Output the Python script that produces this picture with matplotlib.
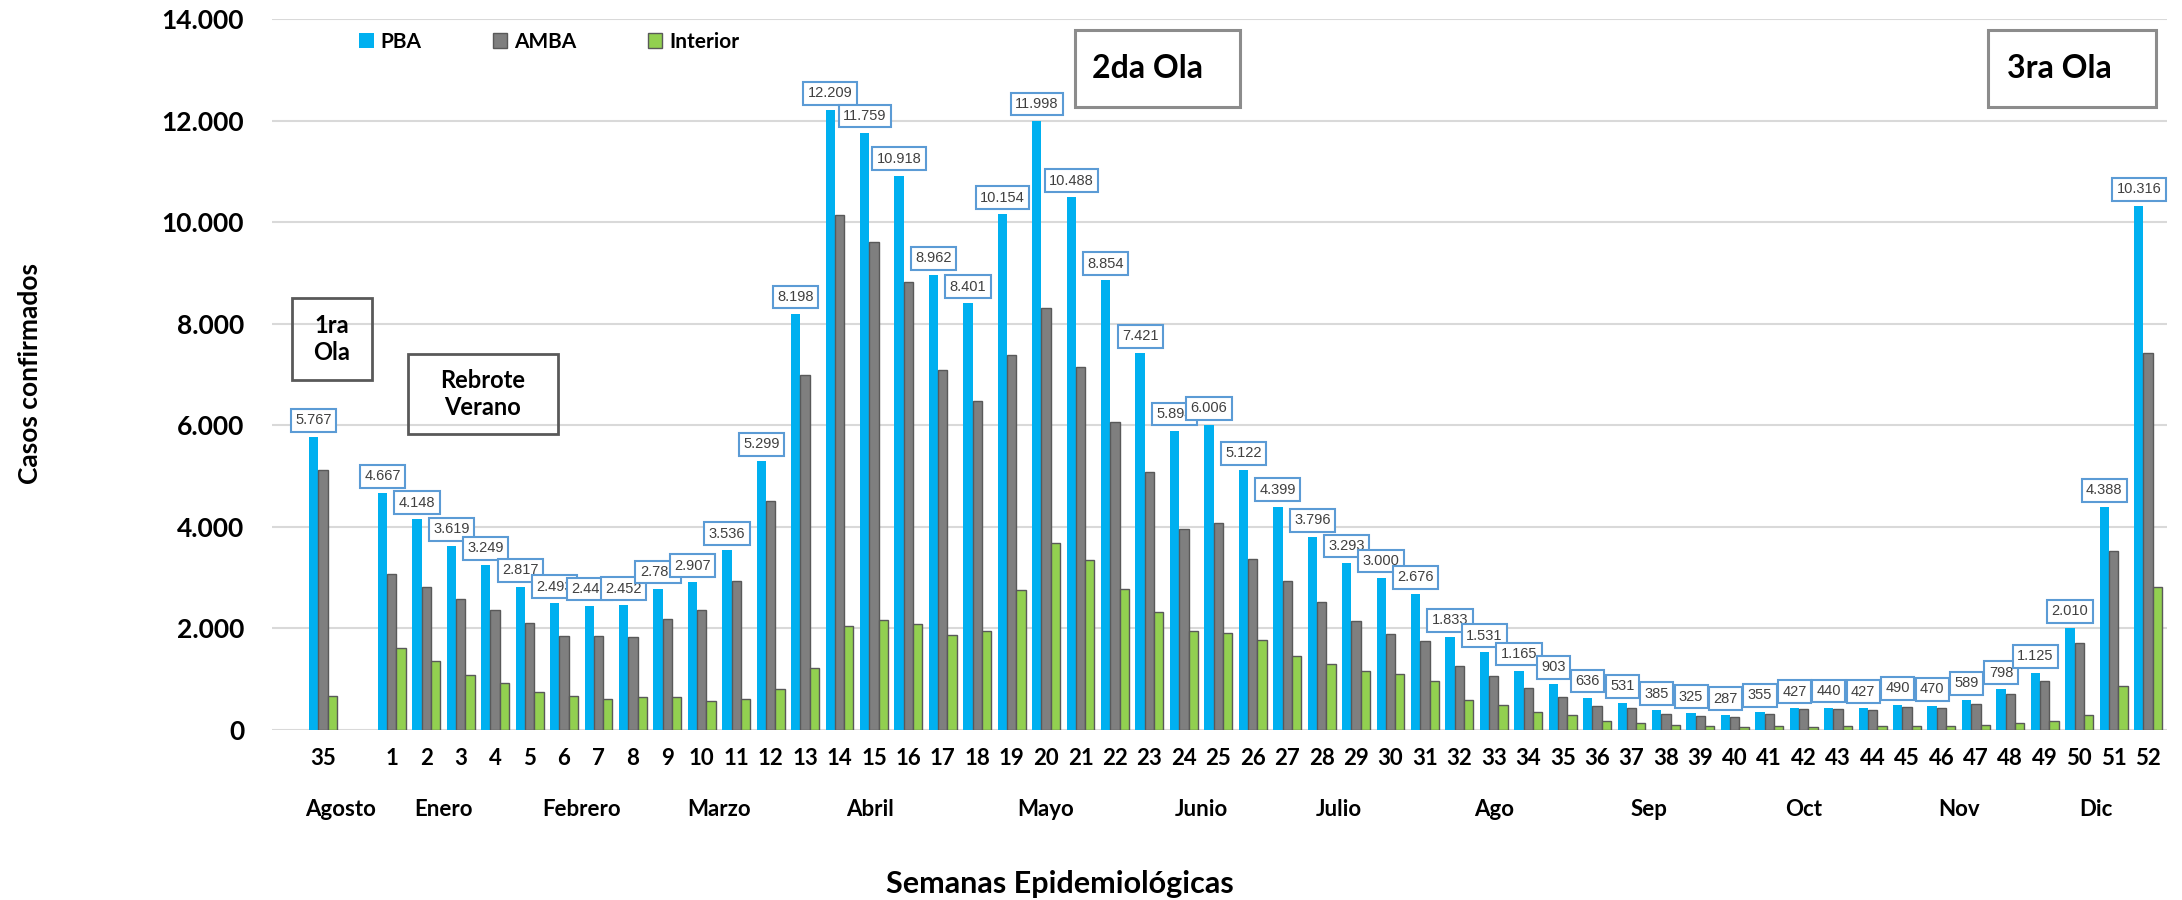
import numpy as np
import matplotlib.pyplot as plt
from matplotlib.patches import Rectangle
from matplotlib.ticker import FuncFormatter

# semanas epidemiologicas (35 de 2020 y luego 1..52 de 2021)
weeks = ['35', '1', '2', '3', '4', '5', '6', '7', '8', '9', '10', '11', '12',
         '13', '14', '15', '16', '17', '18', '19', '20', '21', '22', '23', '24',
         '25', '26', '27', '28', '29', '30', '31', '32', '33', '34', '35', '36',
         '37', '38', '39', '40', '41', '42', '43', '44', '45', '46', '47', '48',
         '49', '50', '51', '52']

pba = [5767, 4667, 4148, 3619, 3249, 2817, 2493, 2446, 2452, 2783, 2907, 3536, 5299,
       8198, 12209, 11759, 10918, 8962, 8401, 10154, 11998, 10488, 8854,
       7421, 5894, 6006, 5122, 4399, 3796, 3293, 3000, 2676, 1833,
       1531, 1165, 903, 636, 531, 385, 325, 287, 355, 427,
       440, 427, 490, 470, 589, 798, 1125, 2010, 4388, 10316]

amba = [5110, 3075, 2810, 2580, 2360, 2100, 1860, 1860, 1840, 2180, 2360, 2940, 4500,
        6990, 10140, 9610, 8830, 7080, 6470, 7380, 8310, 7140, 6070,
        5090, 3960, 4085, 3370, 2940, 2530, 2140, 1900, 1750, 1260,
        1060, 820, 640, 480, 430, 320, 280, 255, 320, 410,
        410, 390, 450, 430, 510, 700, 970, 1720, 3530, 7430]

interior = [670, 1620, 1360, 1075, 920, 750, 670, 620, 640, 640, 580, 620, 810,
            1230, 2050, 2160, 2090, 1870, 1940, 2760, 3690, 3340, 2780,
            2330, 1940, 1910, 1770, 1460, 1290, 1160, 1110, 960, 600,
            500, 360, 290, 180, 140, 90, 70, 50, 70, 50,
            70, 70, 70, 70, 100, 140, 180, 295, 865, 2820]

months = ['Agosto', 'Enero', 'Febrero', 'Marzo', 'Abril', 'Mayo', 'Junio',
          'Julio', 'Ago', 'Sep', 'Oct', 'Nov', 'Dic']
month_pos = [0.5, 3.5, 7.5, 11.5, 15.9, 21.0, 25.5, 29.5, 34.0, 38.5, 43.0, 47.5, 51.5]

W, H = 2182, 900
plt.rcParams['font.family'] = ['Lato', 'DejaVu Sans']

fig = plt.figure(figsize=(W / 100, H / 100), dpi=100)
ax = fig.add_axes([272 / W, 1 - 730 / H, (2167 - 272) / W, (730 - 19) / H])

idx = np.arange(len(weeks))
x = idx + (idx > 0)  # hueco entre la 35 y la semana 1
w = 0.27

b1 = ax.bar(x - w, pba, w, color='#00B0F0', label='PBA')
b2 = ax.bar(x, amba, w, color='#7F7F7F', edgecolor='#595959', linewidth=1, label='AMBA')
b3 = ax.bar(x + w, interior, w, color='#92D050', edgecolor='#595959', linewidth=1, label='Interior')

lab_font = ['Liberation Sans Narrow', 'Liberation Sans', 'DejaVu Sans']
for xi, v in zip(x, pba):
    ax.annotate(f'{v:,}'.replace(',', '.'), (xi - w, v), xytext=(0, 7),
                textcoords='offset points', ha='center', va='bottom',
                fontsize=10.5, color='#404040', family=lab_font,
                bbox=dict(boxstyle='square,pad=0.3', fc='white', ec='#5B9BD5', lw=1.5))

ax.set_xlim(-1.48, 53.55)
ax.set_ylim(0, 14000)
ax.set_yticks(np.arange(0, 14001, 2000))
ax.yaxis.set_major_formatter(FuncFormatter(lambda v, p: f'{int(v):,}'.replace(',', '.')))
ax.yaxis.grid(True, color='#D9D9D9', lw=1.5)
ax.set_axisbelow(True)
for s in ax.spines.values():
    s.set_visible(False)

ax.set_xticks(x)
ax.set_xticklabels(weeks)
ax.tick_params(axis='x', length=0, pad=13, labelsize=16)
ax.tick_params(axis='y', length=0, pad=20, labelsize=19)
for t in ax.get_xticklabels() + ax.get_yticklabels():
    t.set_fontweight('bold')

for name, pos in zip(months, month_pos):
    ax.text(pos, -0.121, name, transform=ax.get_xaxis_transform(), ha='center',
            va='baseline', fontsize=16, fontweight='bold')

fig.text(1060 / W, 1 - 893 / H, 'Semanas Epidemiológicas', ha='center', va='baseline',
         fontsize=22, fontweight='bold')
fig.text(30 / W, 1 - 373 / H, 'Casos confirmados', rotation=90, ha='center', va='center',
         fontsize=19, fontweight='bold')

ax.legend(handles=[b1, b2, b3], loc='center left', bbox_to_anchor=(359 / W, 1 - 42 / H),
          bbox_transform=fig.transFigure, ncol=3, frameon=False,
          prop={'weight': 'bold', 'size': 15}, handlelength=0.7, handleheight=0.7,
          handletextpad=0.35, columnspacing=3.4, borderpad=0, borderaxespad=0)


def caja(x0, y0, x1, y1, ec, lw):
    fig.add_artist(Rectangle((x0 / W, 1 - y1 / H), (x1 - x0) / W, (y1 - y0) / H,
                             transform=fig.transFigure, fill=False, ec=ec, lw=lw))


caja(292, 298, 372, 380, '#595959', 2)
fig.text(332 / W, 1 - 339 / H, '1ra\nOla', ha='center', va='center', fontsize=17,
         fontweight='bold', linespacing=1.25)
caja(408, 354, 558, 434, '#595959', 2)
fig.text(483 / W, 1 - 394 / H, 'Rebrote\nVerano', ha='center', va='center', fontsize=17,
         fontweight='bold', linespacing=1.25)
caja(1075, 30, 1240, 107, '#8C8C8C', 2.2)
fig.text(1092 / W, 1 - 68 / H, '2da Ola', ha='left', va='center', fontsize=23,
         fontweight='bold')
caja(1988, 30, 2156, 107, '#8C8C8C', 2.2)
fig.text(2007 / W, 1 - 68 / H, '3ra Ola', ha='left', va='center', fontsize=23,
         fontweight='bold')

fig.savefig('out.png', dpi=100)
